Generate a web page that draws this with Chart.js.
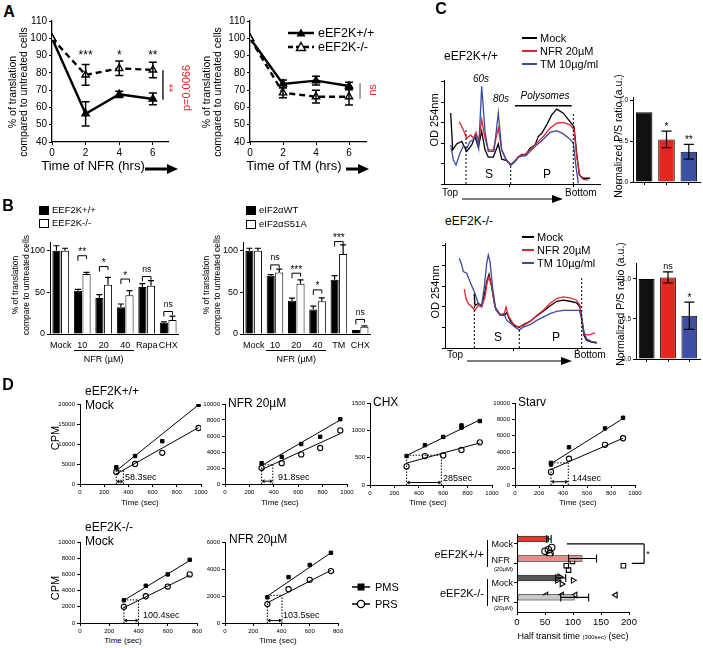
<!DOCTYPE html>
<html><head><meta charset="utf-8">
<script src="https://cdn.jsdelivr.net/npm/chart.js@4.4.1/dist/chart.umd.min.js"></script>
<style>
html,body{margin:0;padding:0;background:#fff}
body{position:relative;width:703px;height:648px;overflow:hidden;font-family:"Liberation Sans",Arial,Helvetica,sans-serif}
canvas{position:absolute}
.t{position:absolute;white-space:nowrap;line-height:1.15;color:#000}
</style></head><body>
<script>
const FONT = '"Liberation Sans", Arial, Helvetica, sans-serif';
Chart.defaults.font.family = FONT;
Chart.defaults.color = '#000';

// ---------- A: translation time courses ----------
const aTime = [0, 2, 4, 6];
const aNfrWT = [100, 56.3, 67.6, 64.9];
const aNfrWTErr = [0, 7, 1.8, 3.4];
const aNfrKO = [100, 78.8, 82.6, 81.7];
const aNfrKOErr = [0, 6, 4.2, 4.5];
const aNfrStars = ['', '***', '*', '**'];
const aNfrLink = [6.6, 81.5, 64.5];
const aTmWT = [100, 73.6, 75.5, 72.4];
const aTmWTErr = [0, 2.2, 2.5, 2.2];
const aTmKO = [100, 68.5, 66.2, 66.2];
const aTmKOErr = [0, 2.9, 3.7, 4.8];
const aTmLink = [6.67, 74, 65];
const aYTicks = [40, 50, 60, 70, 80, 90, 100, 110];

// ---------- B: translation bars ----------
const bCatsL = ['Mock', '10', '20', '40', 'Rapa', 'CHX'];
const bWT = [100, 52, 43.2, 32, 56.4, 13.5];
const bWTErr = [6, 1.5, 4, 4, 4, 1];
const bKO = [100, 72, 59, 46.4, 58, 16.7];
const bKOErr = [3, 2, 9, 5.6, 6, 4.7];
const bStarsL = ['', '**', '*', '*', 'ns', 'ns'];
const bBrkL = [null, 94, 81, 66, 69, 27];
const bCatsR = ['Mock', '10', '20', '40', 'TM', 'CHX'];
const bEifWT = [100, 70, 40, 29.4, 65, 4.8];
const bEifWTErr = [3, 1.2, 3, 4, 5, 0];
const bEifSA = [100, 74, 60.3, 39.3, 96, 8.7];
const bEifSAErr = [3, 4, 4.8, 4, 11, 1];
const bStarsR = ['', 'ns', '***', '*', '***', 'ns'];
const bBrkR = [null, 83, 73, 53, 111, 17.5];

// ---------- C: polysome profiles (gradient position, OD) ----------
const cWtMockX = [6.7, 8.7, 12.7, 17.7, 22.7, 27.7, 31, 34.3, 37.7, 41, 44.3, 49.3, 54.3, 57.7, 62.7, 66.7, 71, 74.3, 78, 81, 86, 91, 94.3, 97.7, 102.7, 107.7, 112.7, 119.3, 126, 130, 132.7, 135.3, 139.3, 146];
const cWtMockY = [3.47, 1.67, 1.96, 2.08, 1.59, 1.91, 2.32, 1.80, 2.57, 1.67, 1.31, 1.31, 1.96, 1.21, 1.14, 0.93, 1.10, 1.31, 1.45, 1.37, 1.75, 1.91, 2.32, 2.48, 2.89, 3.38, 3.66, 3.46, 3.05, 2.81, 1.50, 0.44, 0.28, 0.28];
const cWtNfrX = [15.3, 19.3, 22.7, 26.7, 29.3, 32, 34.7, 37.7, 41, 44.3, 49.3, 54.3, 57.7, 62, 66.7, 71, 74.3, 82.7, 87.7, 92.7, 99.3, 106, 112.7, 119.3, 126, 130, 132.7, 136, 139.3, 144.3];
const cWtNfrY = [3.04, 2.65, 2.24, 2.40, 2.24, 2.52, 2.07, 3.14, 2.24, 1.67, 1.67, 2.73, 1.67, 1.21, 0.96, 1.14, 1.34, 1.50, 1.75, 2.00, 2.32, 2.73, 2.97, 3.01, 2.89, 2.65, 1.34, 0.39, 0.23, 0.20];
const cWtTmX = [6.7, 9.3, 12, 16, 19.3, 22.7, 26, 29.3, 32, 34.7, 37.7, 41, 44.3, 50, 54.3, 57.7, 62, 66.7, 71, 74.3, 82.7, 87.7, 92.7, 99.3, 106, 112.7, 119.3, 126, 129.3, 132, 134.3];
const cWtTmY = [1.91, 1.18, 0.93, 1.50, 1.86, 1.75, 2.08, 2.16, 2.40, 1.75, 4.77, 2.57, 1.59, 1.59, 3.47, 1.67, 1.18, 0.90, 1.10, 1.31, 1.42, 1.67, 1.91, 2.19, 2.52, 2.61, 2.45, 2.19, 2.00, 0.85, 0.03];
const cWtCuts = [[22, 2.7], [66.7, 0.9], [129.3, 3.5]];
const cWtPoly = [71, 127.7, 3.82];
const cKoMockX = [29.3, 30, 33.3, 36.7, 40, 41.7, 44, 46.7, 50, 55, 59, 61.7, 65, 70, 74.3, 80, 85, 91.7, 98.3, 105, 111.7, 118.3, 125, 131.7, 135, 137.3, 139, 141.7, 146.7, 151.7];
const cKoMockY = [2.65, 2.07, 2.16, 2.04, 2.73, 3.22, 3.58, 2.97, 1.99, 1.63, 1.58, 1.71, 1.34, 1.06, 1.01, 1.17, 1.29, 1.55, 1.78, 2.04, 2.27, 2.32, 2.27, 2.19, 1.99, 1.17, 0.60, 0.36, 0.28, 0.24];
const cKoNfrX = [19.3, 21, 23.3, 26.7, 30, 33.3, 36.7, 40, 42.3, 44, 46.7, 50, 55, 59, 61, 63.3, 68.3, 73.3, 78.3, 85, 91.7, 98.3, 105, 111.7, 118.3, 125, 131.7, 135, 137.7, 139.3, 143.3, 150];
const cKoNfrY = [2.86, 2.40, 2.16, 2.00, 1.83, 2.07, 1.99, 2.48, 3.22, 3.46, 2.97, 1.99, 1.58, 1.62, 1.99, 1.58, 1.17, 1.01, 1.09, 1.29, 1.58, 1.83, 2.16, 2.40, 2.48, 2.43, 2.32, 2.07, 1.17, 0.68, 0.63, 0.73];
const cKoTmX = [14.3, 16.7, 18.3, 21.7, 25, 30, 33.3, 36.7, 39.3, 41.7, 43.3, 45, 47.7, 51, 55, 59, 61.7, 65, 70, 74.3, 78.3, 85, 91.7, 98.3, 105, 111.7, 118.3, 125, 134.3, 136.7, 139, 141.7, 146.7, 151.7];
const cKoTmY = [4.36, 4.04, 3.71, 3.63, 3.22, 2.65, 2.16, 2.07, 2.97, 4.11, 4.52, 4.20, 2.89, 1.83, 1.62, 1.67, 1.34, 1.22, 1.01, 0.88, 1.01, 1.13, 1.34, 1.50, 1.67, 1.78, 1.83, 1.83, 1.83, 1.42, 0.77, 0.44, 0.31, 0.28];
const cKoCuts = [[29.3, 2.6], [74.3, 1.0], [136.7, 3.4]];
// P/S ratio bars
const cPsCats = ['Mock', 'NFR 20µM', 'TM 10µg/ml'];
const cPsWT = [0.85, 0.52, 0.37];
const cPsWTErr = [0, 0.1, 0.09];
const cPsWTStars = ['', '*', '**'];
const cPsKO = [1.0, 1.02, 0.54];
const cPsKOErr = [0, 0.07, 0.17];
const cPsKOStars = ['', 'ns', '*'];

// ---------- D: transit time ----------
const d1PmsX = [300, 455, 680, 980], d1PmsY = [4200, 7000, 10700, 19800];
const d1PrsX = [300, 455, 680, 980], d1PrsY = [3000, 5000, 7800, 14000];
const d1FitPms = [300, 3300, 980, 19800], d1FitPrs = [300, 2500, 980, 14100];
const d1Half = [3300, 58.3, 600];
const d2PmsX = [300, 465, 625, 780, 945], d2PmsY = [2600, 3400, 5000, 5900, 8100];
const d2PrsX = [300, 465, 625, 780, 945], d2PrsY = [2000, 2600, 3700, 4500, 6700];
const d2FitPms = [300, 2300, 945, 8000], d2FitPrs = [300, 1800, 945, 6300];
const d2Half = [2400, 91.8, 350];
const d3PmsX = [300, 450, 600, 750, 750, 900], d3PmsY = [530, 730, 880, 1050, 1090, 1170];
const d3PrsX = [300, 450, 600, 750, 900], d3PrsY = [340, 530, 540, 640, 780];
const d3FitPms = [300, 540, 900, 1190], d3FitPrs = [300, 400, 900, 770];
const d3Half = [545, 285, 45];
const d4PmsX = [300, 300, 450, 750, 900], d4PmsY = [2500, 2700, 4600, 6900, 8200];
const d4PrsX = [300, 450, 750, 900], d4PrsY = [1600, 3200, 4900, 5700];
const d4FitPms = [300, 2600, 900, 8100], d4FitPrs = [300, 1900, 900, 5700];
const d4Half = [2700, 144, 400];
const d5PmsX = [300, 450, 600, 750], d5PmsY = [2800, 4600, 6000, 7800];
const d5PrsX = [300, 450, 600, 750], d5PrsY = [2000, 3300, 4500, 6000];
const d5FitPms = [300, 2800, 750, 7700], d5FitPrs = [300, 1900, 750, 5900];
const d5Half = [2850, 100.4, 300];
const d6PmsX = [300, 450, 600, 750], d6PmsY = [1900, 3400, 4300, 5200];
const d6PrsX = [300, 450, 600, 750], d6PrsY = [1400, 2500, 3200, 3850];
const d6FitPms = [300, 2000, 750, 5200], d6FitPrs = [300, 1500, 750, 3900];
const d6Half = [2050, 103.5, 180];
// half transit summary
const dhRows = ['Mock', 'NFR', 'Mock', 'NFR'];
const dhMean = [57, 117, 78, 103];
const dhErr = [4, 25, 9, 25];
const dhWtMockX = [50, 56, 59, 62, 58], dhWtMockY = [0, -0.1, 0.15, -0.25, 0.3];
const dhWtNfrX = [88, 99, 92, 190], dhWtNfrY = [1, 0.7, 1.3, 1];
const dhKoMockX = [72, 76, 80, 100], dhKoMockY = [2, 1.75, 2.25, 2];
const dhKoNfrX = [52, 80, 104, 176], dhKoNfrY = [3, 3, 3, 3];
const dhLink = [89, 227, 205];

// ---------- helpers ----------
function mrg(a, b) {
  for (const k in b) {
    if (b[k] && typeof b[k] === 'object' && !Array.isArray(b[k]) && a[k] && typeof a[k] === 'object') mrg(a[k], b[k]);
    else a[k] = b[k];
  }
  return a;
}
function lab(html, x, y, o) {
  o = o || {};
  const d = document.createElement('div');
  d.className = 't';
  d.innerHTML = html;
  const s = d.style;
  s.left = x + 'px'; s.top = y + 'px';
  s.fontSize = (o.fs || 11) + 'px';
  if (o.c) s.color = o.c;
  if (o.b) s.fontWeight = 'bold';
  if (o.i) s.fontStyle = 'italic';
  if (o.lh) s.lineHeight = o.lh + 'px';
  s.textAlign = o.ta || 'center';
  const tx = o.al === 'l' ? '0' : o.al === 'r' ? '-100%' : '-50%';
  s.transform = 'translate(' + tx + ',-50%)' + (o.rot ? ' rotate(' + o.rot + 'deg)' : '');
  document.body.appendChild(d);
  return d;
}
function box(x, y, w, h, bg, bd) {
  const d = document.createElement('div');
  d.style.cssText = 'position:absolute;box-sizing:border-box;left:' + x + 'px;top:' + y + 'px;width:' + w + 'px;height:' + h + 'px;background:' + bg + ';' + (bd ? 'border:1px solid #000;' : '');
  document.body.appendChild(d);
}
function svg(x, y, w, h, inner) {
  const d = document.createElement('div');
  d.style.cssText = 'position:absolute;left:' + x + 'px;top:' + y + 'px;width:' + w + 'px;height:' + h + 'px';
  d.innerHTML = '<svg width="' + w + '" height="' + h + '" xmlns="http://www.w3.org/2000/svg">' + inner + '</svg>';
  document.body.appendChild(d);
}

Chart.register({
  id: 'errs',
  afterDatasetsDraw(chart) {
    const ctx = chart.ctx, hz = chart.options.indexAxis === 'y';
    const vs = hz ? chart.scales.x : chart.scales.y;
    chart.data.datasets.forEach((ds, di) => {
      if (!ds.err) return;
      const meta = chart.getDatasetMeta(di);
      ctx.save();
      ctx.strokeStyle = '#000'; ctx.lineWidth = ds.errW || 1.2; ctx.setLineDash([]);
      meta.data.forEach((el, i) => {
        const e = ds.err[i]; if (!e) return;
        const raw = ds.data[i];
        const v = typeof raw === 'object' ? raw[vs.axis] : raw;
        const hi = vs.getPixelForValue(v + e);
        const lo = vs.getPixelForValue(ds.errDown === false ? v : v - e);
        const c = ds.cap || 4;
        ctx.beginPath();
        if (hz) {
          ctx.moveTo(lo, el.y); ctx.lineTo(hi, el.y);
          ctx.moveTo(hi, el.y - c); ctx.lineTo(hi, el.y + c);
          if (ds.errDown !== false) { ctx.moveTo(lo, el.y - c); ctx.lineTo(lo, el.y + c); }
        } else {
          ctx.moveTo(el.x, lo); ctx.lineTo(el.x, hi);
          ctx.moveTo(el.x - c, hi); ctx.lineTo(el.x + c, hi);
          if (ds.errDown !== false) { ctx.moveTo(el.x - c, lo); ctx.lineTo(el.x + c, lo); }
        }
        ctx.stroke();
      });
      ctx.restore();
    });
  }
});

function segs(ch, list, st) {
  st = st || {};
  const ctx = ch.ctx, X = ch.scales.x, Y = ch.scales.y;
  ctx.save();
  ctx.strokeStyle = st.c || '#000'; ctx.lineWidth = st.w || 1; ctx.setLineDash(st.d || []);
  ctx.beginPath();
  list.forEach(s => {
    ctx.moveTo(X.getPixelForValue(s[0]), Y.getPixelForValue(s[1]));
    ctx.lineTo(X.getPixelForValue(s[2]), Y.getPixelForValue(s[3]));
  });
  ctx.stroke(); ctx.restore();
}
function dblArrow(ch, x1, x2, y) {
  const ctx = ch.ctx, X = ch.scales.x, Y = ch.scales.y;
  const a = X.getPixelForValue(x1), b = X.getPixelForValue(x2), p = Y.getPixelForValue(y), h = 3;
  ctx.save(); ctx.fillStyle = '#000'; ctx.strokeStyle = '#000'; ctx.lineWidth = 1; ctx.setLineDash([]);
  ctx.beginPath(); ctx.moveTo(a + h, p); ctx.lineTo(b - h, p); ctx.stroke();
  ctx.beginPath(); ctx.moveTo(a, p); ctx.lineTo(a + h, p - 2); ctx.lineTo(a + h, p + 2); ctx.closePath(); ctx.fill();
  ctx.beginPath(); ctx.moveTo(b, p); ctx.lineTo(b - h, p - 2); ctx.lineTo(b - h, p + 2); ctx.closePath(); ctx.fill();
  ctx.restore();
}

function mk(L, T, W, H, m, cfg, draw) {
  const cv = document.createElement('canvas');
  const cw = Math.ceil(m.yw + W + m.pr), chh = Math.ceil(m.pt + H + m.xh);
  cv.width = cw; cv.height = chh;
  cv.style.left = (L - m.yw) + 'px'; cv.style.top = (T - m.pt) + 'px';
  cv.style.width = cw + 'px'; cv.style.height = chh + 'px';
  document.body.appendChild(cv);
  const o = cfg.options = cfg.options || {};
  o.responsive = false; o.maintainAspectRatio = false; o.animation = false; o.devicePixelRatio = 1; o.events = [];
  o.layout = {padding: {top: m.pt, right: cw - m.yw - W, left: 0, bottom: 0}};
  o.plugins = Object.assign({legend: {display: false}, tooltip: {enabled: false}}, o.plugins || {});
  if (draw) cfg.plugins = [{id: 'extra', afterDatasetsDraw: draw}];
  const ch = new Chart(cv, cfg);
  ch.$ox = L - m.yw; ch.$oy = T - m.pt;
  return ch;
}
function px(ch, xv, yv, ya) {
  return [ch.$ox + ch.scales.x.getPixelForValue(xv), ch.$oy + ch.scales[ya || 'y'].getPixelForValue(yv)];
}
function lin(min, max, tv, fs, fit, ex) {
  return mrg({
    type: 'linear', min: min, max: max,
    afterBuildTicks: sc => { sc.ticks = tv.map(v => ({value: v})); },
    afterFit: sc => { if (sc.isHorizontal()) sc.height = fit; else sc.width = fit; },
    grid: {display: true, drawOnChartArea: false, drawTicks: true, tickLength: 3, color: '#000', lineWidth: 1},
    border: {display: true, color: '#000', width: 1},
    ticks: {font: {size: fs}, color: '#000', padding: 2, maxRotation: 0, autoSkip: false, callback: v => String(v)}
  }, ex || {});
}
function cat(fs, fit, ex) {
  return mrg({
    type: 'category',
    afterFit: sc => { sc.height = fit; },
    grid: {display: false, drawTicks: false},
    border: {display: true, color: '#000', width: 1},
    ticks: {font: {size: fs}, color: '#000', padding: 5, maxRotation: 0, autoSkip: false}
  }, ex || {});
}
const pts = (xs, ys) => xs.map((x, i) => ({x: x, y: ys[i]}));

// ---------- A ----------
function aChart(L, W, xmax, wt, wtE, ko, koE, draw) {
  const line = {showLine: true, borderColor: '#000', borderWidth: 2.4, pointStyle: 'triangle', pointRadius: 4.2,
    pointBorderColor: '#000', pointBorderWidth: 1.4, cap: 4, errW: 1.5, tension: 0};
  return mk(L, 21, W, 121, {yw: 30, xh: 16, pt: 8, pr: 6}, {
    type: 'scatter',
    data: {datasets: [
      Object.assign({data: pts(aTime, ko), err: koE, borderDash: [6, 4], pointBackgroundColor: '#fff'}, line),
      Object.assign({data: pts(aTime, wt), err: wtE, pointBackgroundColor: '#000'}, line)
    ]},
    options: {scales: {x: lin(0, xmax, aTime, 10, 16, {border: {width: 1.3}}), y: lin(40, 110, aYTicks, 10, 30, {border: {width: 1.3}})}}
  }, draw);
}
const chA1 = aChart(52, 116, 6.9, aNfrWT, aNfrWTErr, aNfrKO, aNfrKOErr,
  c => segs(c, [[aNfrLink[0], aNfrLink[1], aNfrLink[0], aNfrLink[2]]], {w: 1.3}));
const chA2 = aChart(250, 116, 7.03, aTmWT, aTmWTErr, aTmKO, aTmKOErr,
  c => segs(c, [[aTmLink[0], aTmLink[1], aTmLink[0], aTmLink[2]]], {w: 1.3, c: '#777'}));

lab('A', 9, 12, {fs: 16, b: true});
lab('% of translation<br>compared to untreated cells', 18, 92, {fs: 10.5, rot: -90, lh: 11});
lab('% of translation<br>compared to untreated cells', 212, 92, {fs: 10.5, rot: -90, lh: 11});
lab('Time of NFR (hrs)', 93, 166, {fs: 13});
lab('Time of TM (hrs)', 294, 166, {fs: 13});
svg(145, 161, 34, 12, '<line x1="0" y1="6" x2="24" y2="6" stroke="#000" stroke-width="3"/><polygon points="22,1 33,6 22,11" fill="#000"/>');
svg(346, 161, 24, 12, '<line x1="0" y1="6" x2="14" y2="6" stroke="#000" stroke-width="3"/><polygon points="12,1 23,6 12,11" fill="#000"/>');
aNfrStars.forEach((s, i) => { if (s) { const p = px(chA1, aTime[i], 90); lab(s, p[0], p[1], {fs: 12}); } });
lab('**<br>p=0.0066', 180, 88, {fs: 11, c: '#e3262d', rot: -90, lh: 13});
lab('ns', 372, 90, {fs: 11, c: '#e3262d', rot: -90});
svg(287, 26, 30, 28, '<line x1="1" y1="7" x2="27" y2="7" stroke="#000" stroke-width="2.5"/><polygon points="14,2.5 18.5,10.5 9.5,10.5" fill="#000"/>' +
  '<line x1="1" y1="21" x2="27" y2="21" stroke="#000" stroke-width="2.5" stroke-dasharray="5,3"/><polygon points="14,16.5 18.5,24.5 9.5,24.5" fill="#fff" stroke="#000" stroke-width="1.4"/>');
lab('eEF2K+/+', 318, 33, {fs: 12.5, al: 'l'});
lab('eEF2K-/-', 318, 47, {fs: 12.5, al: 'l'});

// ---------- B ----------
function bChart(L, W, cats, wt, wtE, ko, koE, brk) {
  return mk(L, 240.6, W, 92.4, {yw: 24, xh: 20, pt: 6, pr: 4}, {
    type: 'bar',
    data: {labels: cats, datasets: [
      {data: wt, err: wtE, errDown: false, backgroundColor: '#000', borderColor: '#000', borderWidth: 1, cap: 3},
      {data: ko, err: koE, errDown: false, backgroundColor: '#fff', borderColor: '#000', borderWidth: 1, cap: 3}
    ]},
    options: {datasets: {bar: {categoryPercentage: 0.8, barPercentage: 0.95}},
      scales: {x: cat(9, 20, {ticks: {padding: 6}}), y: lin(0, 110, [0, 50, 100], 9, 24)}}
  }, c => {
    const list = [];
    brk.forEach((v, i) => { if (v !== null) list.push([i - 0.2, v - 6, i - 0.2, v], [i - 0.2, v, i + 0.2, v], [i + 0.2, v, i + 0.2, v - 4]); });
    segs(c, list, {w: 1});
  });
}
const chB1 = bChart(50, 130, bCatsL, bWT, bWTErr, bKO, bKOErr, bBrkL);
const chB2 = bChart(243, 129, bCatsR, bEifWT, bEifWTErr, bEifSA, bEifSAErr, bBrkR);
function bStars(ch, stars, brk) {
  stars.forEach((s, i) => {
    if (!s) return;
    const p = px(ch, i, brk[i]);
    lab(s, p[0], p[1] - (s === 'ns' ? 6 : 3), {fs: s === 'ns' ? 8.5 : 10});
  });
  const a = px(ch, 0.6, 0), b = px(ch, 3.4, 0);
  box(a[0], a[1] + 16, b[0] - a[0], 1, '#000');
  lab('NFR (µM)', (a[0] + b[0]) / 2, a[1] + 25, {fs: 9});
}
bStars(chB1, bStarsL, bBrkL);
bStars(chB2, bStarsR, bBrkR);
lab('B', 8, 206, {fs: 16, b: true});
lab('% of translation<br>compare to untreated cells', 21, 285, {fs: 8.5, rot: -90, lh: 11});
lab('% of translation<br>compare to untreated cells', 212, 285, {fs: 8.5, rot: -90, lh: 11});
box(39, 205.5, 10, 9, '#000'); lab('EEF2K+/+', 52, 210, {fs: 9.5, al: 'l'});
box(39, 218.5, 10, 9, '#fff', true); lab('EEF2K-/-', 52, 223, {fs: 9.5, al: 'l'});
box(246, 205.5, 10, 9, '#000'); lab('eIF2αWT', 259, 210, {fs: 9.5, al: 'l'});
box(246, 219.5, 10, 9, '#fff', true); lab('eIF2αS51A', 259, 224, {fs: 9.5, al: 'l'});

// ---------- C ----------
const cCol = ['#000000', '#e3262d', '#3a4a9f'];
function cProf(L, T, W, H, xt, traces, cuts, draw) {
  return mk(L, T, W, H, {yw: 6, xh: 8, pt: 4, pr: 4}, {
    type: 'scatter',
    data: {datasets: traces.map(tr => ({data: pts(tr[0], tr[1]), showLine: true, borderColor: tr[2], borderWidth: 1.3, pointRadius: 0, tension: 0}))},
    options: {scales: {
      x: lin(0, W, xt, 8, 8, {ticks: {display: false}}),
      y: lin(0, H / 20.46, [0, 1, 2, 3, 4, 5], 8, 6, {ticks: {display: false}})
    }}
  }, c => {
    segs(c, cuts.map(k => [k[0], 0, k[0], k[1]]), {w: 1, d: [2, 2]});
    if (draw) draw(c);
  });
}
const chC1 = cProf(444, 80, 156, 104, [65, 129],
  [[cWtTmX, cWtTmY, cCol[2]], [cWtNfrX, cWtNfrY, cCol[1]], [cWtMockX, cWtMockY, cCol[0]]], cWtCuts,
  c => segs(c, [[cWtPoly[0], cWtPoly[2], cWtPoly[1], cWtPoly[2]]], {w: 1.5}));
const chC2 = cProf(445, 243, 155, 104.3, [68, 132],
  [[cKoTmX, cKoTmY, cCol[2]], [cKoNfrX, cKoNfrY, cCol[1]], [cKoMockX, cKoMockY, cCol[0]]], cKoCuts);

function cBar(L, T, W, H, ymax, vals, errs, stars) {
  const ch = mk(L, T, W, H, {yw: 16, xh: 6, pt: 6, pr: 3}, {
    type: 'bar',
    data: {labels: cPsCats, datasets: [{data: vals, err: errs, backgroundColor: ['#111111', '#e3281f', '#3d50a5'], borderColor: '#000', borderWidth: 1, cap: 5, errW: 1.2}]},
    options: {datasets: {bar: {categoryPercentage: 1, barPercentage: 0.74}},
      scales: {x: cat(8, 6, {ticks: {display: false}, grid: {display: true, drawTicks: true, drawOnChartArea: false, tickLength: 3, color: '#000', offset: false}}),
        y: lin(0, ymax, [0, 0.5, 1], 6.5, 16, {ticks: {callback: v => v.toFixed(1)}})}}
  });
  stars.forEach((s, i) => {
    if (!s) return;
    const p = px(ch, i, vals[i] + errs[i]);
    lab(s, p[0], p[1] - (s === 'ns' ? 6 : 4), {fs: s === 'ns' ? 9 : 10});
  });
  return ch;
}
cBar(633, 97, 67, 85, 1.037, cPsWT, cPsWTErr, cPsWTStars);
cBar(636, 263, 64, 96, 1.2, cPsKO, cPsKOErr, cPsKOStars);

lab('C', 441, 9, {fs: 16, b: true});
lab('eEF2K+/+', 471, 57, {fs: 12});
lab('eEF2K-/-', 469, 222, {fs: 12});
lab('OD 254nm', 434, 120, {fs: 11, rot: -90});
lab('OD 254nm', 435, 292, {fs: 11, rot: -90});
lab('Normalized P/S ratio (a.u.)', 618, 136, {fs: 10.5, rot: -90});
lab('Normalized P/S ratio (a.u.)', 620, 304, {fs: 10.5, rot: -90});
lab('60s', 481, 79, {fs: 10, i: true});
lab('80s', 501, 99, {fs: 10, i: true});
lab('Polysomes', 545, 96, {fs: 10, i: true});
lab('S', 489, 175, {fs: 12}); lab('P', 547, 175, {fs: 12});
lab('S', 498, 338, {fs: 12}); lab('P', 556, 338, {fs: 12});
[[193, 442, 462, 563], [355, 447, 467, 572]].forEach(r => {
  lab('Top', r[1], r[0], {fs: 10, al: 'l'});
  svg(r[2], r[0] - 4, r[3] - r[2] + 1, 8, '<line x1="0" y1="4" x2="' + (r[3] - r[2] - 10) + '" y2="4" stroke="#000" stroke-width="1.2"/><polygon points="' + (r[3] - r[2] - 11) + ',0 ' + (r[3] - r[2]) + ',4 ' + (r[3] - r[2] - 11) + ',8" fill="#000"/>');
  lab('Bottom', r[3] + 2, r[0], {fs: 10, al: 'l'});
});
[[37, 522, 15], [236, 522, 12]].forEach(g => {
  ['Mock', 'NFR 20µM', 'TM 10µg/ml'].forEach((t, i) => {
    box(g[1], g[0] + i * 12.8, g[2], 2, cCol[i]);
    lab(t, g[1] + g[2] + 3, g[0] + 1 + i * 12.8, {fs: 11, al: 'l'});
  });
});

// ---------- D ----------
function dChart(L, T, W, H, xmax, ymax, yt, pmsX, pmsY, prsX, prsY, fPms, fPrs, half) {
  const xt = xmax === 1000 ? [0, 200, 400, 600, 800, 1000] : [0, 200, 400, 600, 800];
  return mk(L, T, W, H, {yw: 24, xh: 10, pt: 6, pr: 10}, {
    type: 'scatter',
    data: {datasets: [
      {data: [{x: fPms[0], y: fPms[1]}, {x: fPms[2], y: fPms[3]}], showLine: true, pointRadius: 0, borderColor: '#000', borderWidth: 1},
      {data: [{x: fPrs[0], y: fPrs[1]}, {x: fPrs[2], y: fPrs[3]}], showLine: true, pointRadius: 0, borderColor: '#000', borderWidth: 1},
      {data: pts(pmsX, pmsY), pointStyle: 'rect', pointRadius: 2.4, pointBackgroundColor: '#000', pointBorderColor: '#000', pointBorderWidth: 1},
      {data: pts(prsX, prsY), pointStyle: 'circle', pointRadius: 2.6, pointBackgroundColor: '#fff', pointBorderColor: '#000', pointBorderWidth: 1.1}
    ]},
    options: {scales: {x: lin(0, xmax, xt, 6, 10), y: lin(0, ymax, yt, 6, 24)}}
  }, c => {
    const x0 = fPms[0], x1 = fPms[0] + half[1];
    segs(c, [[x0, 0, x0, half[0]], [x1, 0, x1, half[0]], [x0, half[0], x1, half[0]]], {w: 1, d: [1.5, 1.5]});
    dblArrow(c, x0, x1, half[2]);
  });
}
const chD1 = dChart(80, 404, 121, 80, 1000, 20000, [0, 5000, 10000, 15000, 20000], d1PmsX, d1PmsY, d1PrsX, d1PrsY, d1FitPms, d1FitPrs, d1Half);
const chD2 = dChart(225, 404, 122, 80, 1000, 10000, [0, 2000, 4000, 6000, 8000, 10000], d2PmsX, d2PmsY, d2PrsX, d2PrsY, d2FitPms, d2FitPrs, d2Half);
const chD3 = dChart(370, 403, 122, 82, 1000, 1500, [0, 500, 1000, 1500], d3PmsX, d3PmsY, d3PrsX, d3PrsY, d3FitPms, d3FitPrs, d3Half);
const chD4 = dChart(515, 403, 120, 82, 1000, 10000, [0, 2000, 4000, 6000, 8000, 10000], d4PmsX, d4PmsY, d4PrsX, d4PrsY, d4FitPms, d4FitPrs, d4Half);
const chD5 = dChart(80, 542, 117, 81, 800, 10000, [0, 2000, 4000, 6000, 8000, 10000], d5PmsX, d5PmsY, d5PrsX, d5PrsY, d5FitPms, d5FitPrs, d5Half);
const chD6 = dChart(225, 542, 113, 81, 800, 6000, [0, 2000, 4000, 6000], d6PmsX, d6PmsY, d6PrsX, d6PrsY, d6FitPms, d6FitPrs, d6Half);

lab('D', 8, 385, {fs: 16, b: true});
lab('eEF2K+/+<br>Mock', 85, 398, {fs: 12, al: 'l', ta: 'left', lh: 13.5});
lab('NFR 20µM', 228, 404, {fs: 12, al: 'l'});
lab('CHX', 373, 403, {fs: 12, al: 'l'});
lab('Starv', 518, 403, {fs: 12, al: 'l'});
lab('eEF2K-/-<br>Mock', 85, 534, {fs: 12, al: 'l', ta: 'left', lh: 13.5});
lab('NFR 20µM', 229, 540, {fs: 12, al: 'l'});
lab('CPM', 55, 438, {fs: 11, rot: -90});
lab('CPM', 55, 588, {fs: 11, rot: -90});
[[140, 503], [280, 503], [428, 503], [578, 503], [123, 641], [278, 641]].forEach(p => lab('Time (sec)', p[0], p[1], {fs: 8}));
[['58.3sec', 125, 477], ['91.8sec', 278, 477], ['285sec', 443, 478], ['144sec', 572, 478], ['100.4sec', 143, 615], ['103.5sec', 283, 615]]
  .forEach(t => lab(t[0], t[1], t[2], {fs: 9, al: 'l'}));
svg(351, 580, 22, 30, '<line x1="1" y1="7" x2="19" y2="7" stroke="#000" stroke-width="1.5"/><rect x="6.5" y="3.5" width="7" height="7" fill="#000"/>' +
  '<line x1="1" y1="24" x2="19" y2="24" stroke="#000" stroke-width="1.5"/><circle cx="10" cy="24" r="3.6" fill="#fff" stroke="#000" stroke-width="1.4"/>');
lab('PMS', 375, 587, {fs: 11, al: 'l'});
lab('PRS', 375, 604, {fs: 11, al: 'l'});

const open = {backgroundColor: 'rgba(0,0,0,0)', borderColor: '#000', borderWidth: 1.1, pointRadius: 3.2};
const chDH = mk(517, 533, 112, 79, {yw: 6, xh: 14, pt: 4, pr: 44}, {
  type: 'bar',
  data: {labels: dhRows, datasets: [
    {data: dhMean, err: dhErr, backgroundColor: ['#e2372b', '#ef8a83', '#555555', '#c8c8c8'], borderColor: '#000', borderWidth: 1, cap: 4, errW: 1.1, borderSkipped: false},
    Object.assign({type: 'scatter', indexAxis: 'x', yAxisID: 'y2', data: pts(dhWtMockX, dhWtMockY), pointStyle: 'circle'}, open),
    Object.assign({type: 'scatter', indexAxis: 'x', yAxisID: 'y2', data: pts(dhWtNfrX, dhWtNfrY), pointStyle: 'rect'}, open),
    Object.assign({type: 'scatter', indexAxis: 'x', yAxisID: 'y2', data: pts(dhKoMockX, dhKoMockY), pointStyle: 'triangle', rotation: 90}, open),
    Object.assign({type: 'scatter', indexAxis: 'x', yAxisID: 'y2', data: pts(dhKoNfrX, dhKoNfrY), pointStyle: 'triangle', rotation: -90}, open)
  ]},
  options: {indexAxis: 'y', datasets: {bar: {categoryPercentage: 1, barPercentage: 0.66}},
    scales: {
      x: lin(0, 200, [0, 50, 100, 150, 200], 9.5, 14),
      y: cat(9, 6, {ticks: {display: false}, grid: {display: true, drawTicks: true, drawOnChartArea: false, tickLength: 3, color: '#000', offset: false}, afterFit: sc => { sc.width = 6; }}),
      y2: {type: 'linear', display: false, min: -0.5, max: 3.5, reverse: true}
    }}
}, c => segs(c, [[dhLink[0], 0, dhLink[1], 0], [dhLink[1], 0, dhLink[1], 1], [dhLink[2], 1, dhLink[1], 1]], {w: 1.2}));
(function () {
  const r = dhRows.map((t, i) => px(chDH, 0, i)[1]);
  lab('Mock', 513, r[0], {fs: 9, al: 'r'});
  lab('NFR', 510, r[1] - 3, {fs: 9, al: 'r'});
  lab('(20µM)', 513, r[1] + 6, {fs: 6, al: 'r'});
  lab('Mock', 513, r[2], {fs: 9, al: 'r'});
  lab('NFR', 510, r[3] - 3, {fs: 9, al: 'r'});
  lab('(20µM)', 513, r[3] + 6, {fs: 6, al: 'r'});
  lab('eEF2K+/+', 484, (r[0] + r[1]) / 2, {fs: 11, al: 'r'});
  lab('eEF2K-/-', 484, (r[2] + r[3]) / 2, {fs: 11, al: 'r'});
  box(487, r[0] - 4, 1, r[1] - r[0] + 8, '#000');
  box(487, r[2] - 4, 1, r[3] - r[2] + 8, '#000');
  const s = px(chDH, dhLink[1] + 7, 0.5);
  lab('*', s[0], s[1], {fs: 9});
  lab('Half transit time <span style="font-size:6px">(300sec)</span> (sec)', 573, 636, {fs: 9});
})();
</script>
</body></html>
